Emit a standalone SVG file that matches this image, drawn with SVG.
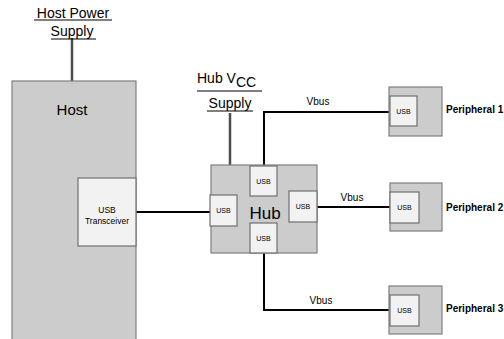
<svg xmlns="http://www.w3.org/2000/svg" width="504" height="339" viewBox="0 0 504 339">
<style>
.blk{fill:#cccccc;stroke:#7f7f7f;stroke-width:1.2}
.usb{fill:#f2f2f2;stroke:#6f6f6f;stroke-width:1.2}
.t{font-family:"Liberation Sans",Arial,sans-serif;fill:#000}
.s{font-size:7px;text-anchor:middle}
.bus{fill:none;stroke:#000;stroke-width:2}
.pwr{fill:none;stroke:#4d4d4d;stroke-width:2.5}
.ul{stroke:#000;stroke-width:1}
</style>
<rect width="504" height="339" fill="#fff"/>
<g id="connectors">
<line class="pwr" x1="72" y1="38" x2="72" y2="81"/>
<line class="pwr" x1="230" y1="113" x2="230" y2="165"/>
<line class="bus" x1="136" y1="212" x2="210" y2="212"/>
<polyline class="bus" points="264,166 264,112 390,112"/>
<line class="bus" x1="317" y1="207" x2="390" y2="207"/>
<polyline class="bus" points="264,253 264,310 390,310"/>
<text class="t" x="318" y="105" font-size="10" text-anchor="middle">Vbus</text>
<text class="t" x="352" y="201" font-size="10" text-anchor="middle">Vbus</text>
<text class="t" x="321" y="304" font-size="10" text-anchor="middle">Vbus</text>
</g>
<g id="host-power">
<text class="t" x="73" y="18" font-size="14" text-anchor="middle">Host Power</text>
<line class="ul" x1="34" y1="20" x2="112" y2="20"/>
<text class="t" x="72" y="36" font-size="14" text-anchor="middle">Supply</text>
<line class="ul" x1="51" y1="39" x2="96" y2="39"/>
</g>
<g id="hub-power">
<text class="t" x="197" y="83" font-size="14">Hub V<tspan font-size="14" dy="4">CC</tspan></text>
<line class="ul" x1="197" y1="91" x2="262" y2="91"/>
<text class="t" x="230" y="108" font-size="14" text-anchor="middle">Supply</text>
<line class="ul" x1="207" y1="111" x2="253" y2="111"/>
</g>
<g id="host">
<rect class="blk" x="12" y="81" width="124" height="262"/>
<text class="t" x="72" y="115" font-size="15" text-anchor="middle">Host</text>
<rect class="usb" x="78" y="178" width="58" height="68"/>
<text class="t" x="107" y="213" font-size="8.5" text-anchor="middle">USB</text>
<text class="t" x="107" y="224" font-size="8.5" text-anchor="middle">Transceiver</text>
</g>
<g id="hub">
<rect class="blk" x="211" y="165" width="106" height="88"/>
<text class="t" x="265" y="219" font-size="17" text-anchor="middle">Hub</text>
<rect class="usb" x="250" y="166" width="27" height="30"/>
<text class="t s" x="263.5" y="184">USB</text>
<rect class="usb" x="210" y="195" width="27" height="31"/>
<text class="t s" x="223.5" y="213">USB</text>
<rect class="usb" x="289" y="191" width="28" height="31"/>
<text class="t s" x="303" y="209">USB</text>
<rect class="usb" x="250" y="223" width="27" height="30"/>
<text class="t s" x="263.5" y="241">USB</text>
</g>
<g id="peripheral1">
<rect class="blk" x="389" y="87" width="53" height="49"/>
<rect class="usb" x="390" y="96" width="27" height="30"/>
<text class="t s" x="403.5" y="114">USB</text>
<text class="t" x="446" y="113" font-size="10" font-weight="bold">Peripheral 1</text>
</g>
<g id="peripheral2">
<rect class="blk" x="390" y="183" width="52" height="48"/>
<rect class="usb" x="390" y="192" width="29" height="31"/>
<text class="t s" x="404.5" y="210">USB</text>
<text class="t" x="446" y="211" font-size="10" font-weight="bold">Peripheral 2</text>
</g>
<g id="peripheral3">
<rect class="blk" x="389" y="286" width="53" height="48"/>
<rect class="usb" x="390" y="295" width="29" height="31"/>
<text class="t s" x="404.5" y="313">USB</text>
<text class="t" x="446" y="312" font-size="10" font-weight="bold">Peripheral 3</text>
</g>
</svg>
